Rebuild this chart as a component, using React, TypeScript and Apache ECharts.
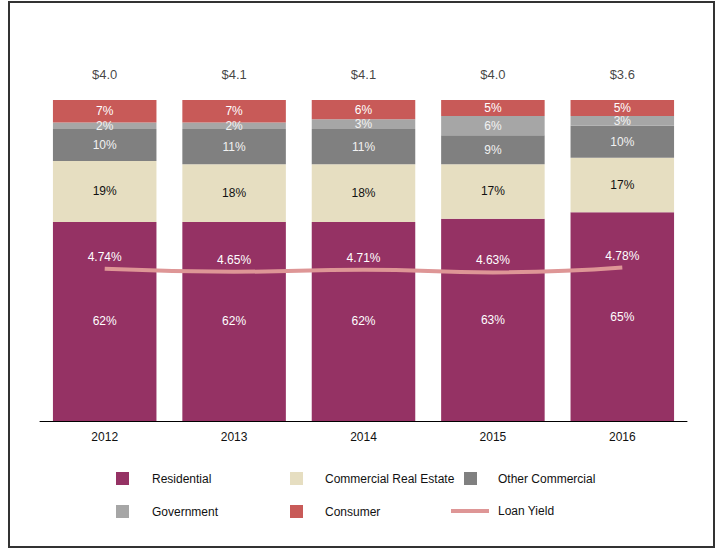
import React, { useEffect, useRef } from "react";
import * as echarts from "echarts";

const years = ["2012", "2013", "2014", "2015", "2016"];
const residential = [62, 62, 62, 63, 65];
const commercialRealEstate = [19, 18, 18, 17, 17];
const otherCommercial = [10, 11, 11, 9, 10];
const government = [2, 2, 3, 6, 3];
const consumer = [7, 7, 6, 5, 5];
const loanYield = [4.74, 4.65, 4.71, 4.63, 4.78];
const totals = ["$4.0", "$4.1", "$4.1", "$4.0", "$3.6"];

const FONT = "Arial, 'Liberation Sans', sans-serif";
const FS = 12;

export default function App() {
  const ref = useRef<HTMLDivElement>(null);
  useEffect(() => {
    if (!ref.current) return;
    const chart = echarts.init(ref.current, undefined, { renderer: "svg" });
    const pctLabel = (color: string) => ({
      show: true,
      position: "inside",
      color,
      fontSize: FS,
      lineHeight: 12,
      fontFamily: FONT,
      formatter: (p: any) => p.value + "%",
    });
    const legendItem = (name: string, left: number, top: number, w: number, h: number, pad: number) => ({
      data: [name],
      left,
      top,
      padding: 0,
      icon: "rect",
      itemWidth: w,
      itemHeight: h,
      selectedMode: false,
      textStyle: { color: "#111", fontSize: FS, fontFamily: FONT, padding: [0, 0, 0, pad] },
    });
    chart.setOption({
      animation: false,
      backgroundColor: "#fff",
      textStyle: { fontFamily: FONT },
      grid: { left: 40, right: 41, top: 100, bottom: 131 },
      graphic: [
        {
          type: "rect",
          shape: { x: 9, y: 2, width: 705, height: 545 },
          style: { fill: "none", stroke: "#333", lineWidth: 2 },
          silent: true,
        },
      ],
      legend: [
        legendItem("Residential", 116, 472, 13, 13, 18),
        legendItem("Commercial Real Estate", 290, 472, 13, 13, 17),
        legendItem("Other Commercial", 464, 472, 13, 13, 16),
        legendItem("Government", 116, 505, 13, 13, 18),
        legendItem("Consumer", 290, 505, 13, 13, 17),
        legendItem("Loan Yield", 451, 505, 38, 4, 4),
      ],
      xAxis: {
        type: "category",
        data: years,
        axisLine: { show: true, lineStyle: { color: "#000", width: 1 } },
        axisTick: { show: false },
        axisLabel: { color: "#111", fontSize: FS, fontFamily: FONT, margin: 10 },
      },
      yAxis: [
        { type: "value", min: 0, max: 100, show: false },
        { type: "value", min: 0, max: 10, show: false },
      ],
      series: [
        {
          name: "Residential",
          type: "bar",
          stack: "a",
          barWidth: "80%",
          data: residential,
          itemStyle: { color: "#953264" },
          label: pctLabel("#fff"),
        },
        {
          name: "Commercial Real Estate",
          type: "bar",
          stack: "a",
          data: commercialRealEstate,
          itemStyle: { color: "#E6DEC1" },
          label: pctLabel("#111"),
        },
        {
          name: "Other Commercial",
          type: "bar",
          stack: "a",
          data: otherCommercial,
          itemStyle: { color: "#808080" },
          label: pctLabel("#f2f2f2"),
        },
        {
          name: "Government",
          type: "bar",
          stack: "a",
          data: government,
          itemStyle: { color: "#A6A6A6" },
          label: pctLabel("#f2f2f2"),
        },
        {
          name: "Consumer",
          type: "bar",
          stack: "a",
          data: consumer,
          itemStyle: { color: "#C85A58" },
          label: pctLabel("#fff"),
        },
        {
          name: "Total",
          type: "scatter",
          data: consumer.map(() => 100),
          symbolSize: 1,
          itemStyle: { color: "rgba(0,0,0,0)" },
          label: {
            show: true,
            position: "top",
            distance: 19,
            color: "#111",
            fontSize: 13,
            fontFamily: FONT,
            formatter: (p: any) => totals[p.dataIndex],
          },
          silent: true,
        },
        {
          name: "Loan Yield",
          type: "line",
          yAxisIndex: 1,
          data: loanYield,
          smooth: true,
          symbol: "circle",
          symbolSize: 0,
          lineStyle: { color: "#DE9696", width: 4 },
          itemStyle: { color: "#DE9696" },
          label: {
            show: true,
            position: "top",
            distance: 6,
            color: "#fff",
            fontSize: FS,
            fontFamily: FONT,
            formatter: (p: any) => p.value.toFixed(2) + "%",
          },
        },
      ],
    });
    return () => chart.dispose();
  }, []);
  return (
    <div
      ref={ref}
      style={{ position: "fixed", left: 0, top: 0, width: 728, height: 552 }}
    />
  );
}
